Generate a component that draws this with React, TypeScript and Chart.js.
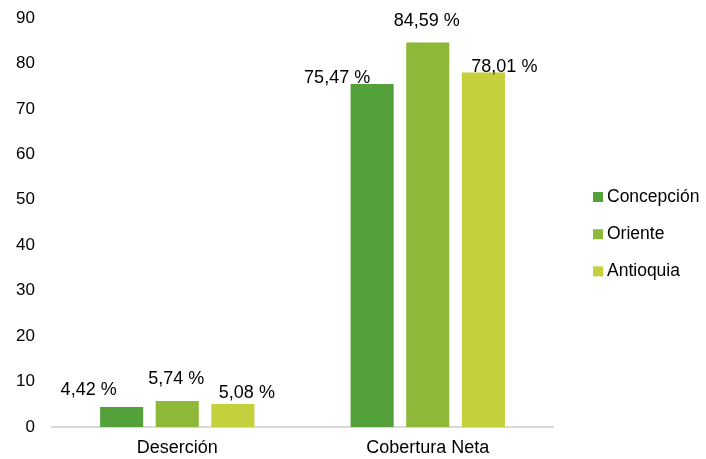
import React, { useEffect, useRef } from "react";
import { Chart, registerables } from "chart.js";

Chart.register(...registerables);

const categories = ["Deserción", "Cobertura Neta"];
const seriesNames = ["Concepción", "Oriente", "Antioquia"];
const concepcion = [4.42, 75.47];
const oriente = [5.74, 84.59];
const antioquia = [5.08, 78.01];
const yTicks = [0, 10, 20, 30, 40, 50, 60, 70, 80, 90];

const COLORS = ["#54a13b", "#8db838", "#c4d13c"];
const FONT = '"Liberation Sans", Arial, Helvetica, sans-serif';
// label nudges [dx, dy] relative to bar top-centre, per series per category
const LABEL_NUDGE = [
  [[-33, -17], [-35, -6]],
  [[-1, -22], [-1, -22]],
  [[14, -11], [21, -5]],
];

const fmt = (v: number) => v.toFixed(2).replace(".", ",") + " %";

const labelPlugin = {
  id: "barLabels",
  afterDatasetsDraw(chart: any) {
    const ctx = chart.ctx;
    ctx.save();
    ctx.font = `18px ${FONT}`;
    ctx.fillStyle = "#000";
    ctx.textAlign = "center";
    ctx.textBaseline = "middle";
    chart.data.datasets.forEach((ds: any, di: number) => {
      const meta = chart.getDatasetMeta(di);
      meta.data.forEach((bar: any, i: number) => {
        const [dx, dy] = LABEL_NUDGE[di][i];
        ctx.fillText(fmt(ds.data[i]), bar.x + dx, bar.y + dy);
      });
    });
    ctx.restore();
  },
};

const legendPlugin = {
  id: "sideLegend",
  afterDraw(chart: any) {
    const ctx = chart.ctx;
    ctx.save();
    ctx.font = `17.5px ${FONT}`;
    ctx.textAlign = "left";
    ctx.textBaseline = "middle";
    chart.data.datasets.forEach((ds: any, di: number) => {
      const cy = 197 + di * 37.2;
      ctx.fillStyle = ds.backgroundColor;
      ctx.fillRect(593, cy - 5, 10, 10);
      ctx.fillStyle = "#000";
      ctx.fillText(ds.label, 607, cy);
    });
    ctx.restore();
  },
};

export default function App() {
  const ref = useRef<HTMLCanvasElement>(null);
  useEffect(() => {
    if (!ref.current) return;
    const values = [concepcion, oriente, antioquia];
    const chart = new Chart(ref.current, {
      type: "bar",
      data: {
        labels: categories,
        datasets: seriesNames.map((name, i) => ({
          label: name,
          data: values[i],
          backgroundColor: COLORS[i],
          borderWidth: 0,
          categoryPercentage: 0.666,
          barPercentage: 0.775,
        })),
      },
      options: {
        responsive: false,
        animation: false,
        layout: { padding: { top: 18, right: 153, bottom: 0, left: 0 } },
        plugins: { legend: { display: false }, tooltip: { enabled: false } },
        scales: {
          x: {
            grid: { display: false, drawTicks: false },
            border: { display: true, color: "#d9d9d9", width: 2 },
            ticks: { font: { size: 18, family: FONT }, color: "#000", padding: 10 },
            afterFit: (s: any) => {
              s.height = 32;
              s.paddingLeft = 0;
              s.paddingRight = 0;
            },
          },
          y: {
            min: 0,
            max: 90,
            afterBuildTicks: (s: any) => {
              s.ticks = yTicks.map((v) => ({ value: v }));
            },
            grid: { display: false, drawTicks: false },
            border: { display: false },
            ticks: { font: { size: 17, family: FONT }, color: "#000", padding: 17 },
            afterFit: (s: any) => {
              s.width = 52;
              s.paddingTop = 0;
              s.paddingBottom = 0;
            },
          },
        },
      },
      plugins: [labelPlugin, legendPlugin],
    });
    return () => chart.destroy();
  }, []);
  return (
    <div style={{ position: "fixed", left: 0, top: 0, width: 706, height: 459, background: "#fff" }}>
      <canvas ref={ref} width={706} height={459} />
    </div>
  );
}
